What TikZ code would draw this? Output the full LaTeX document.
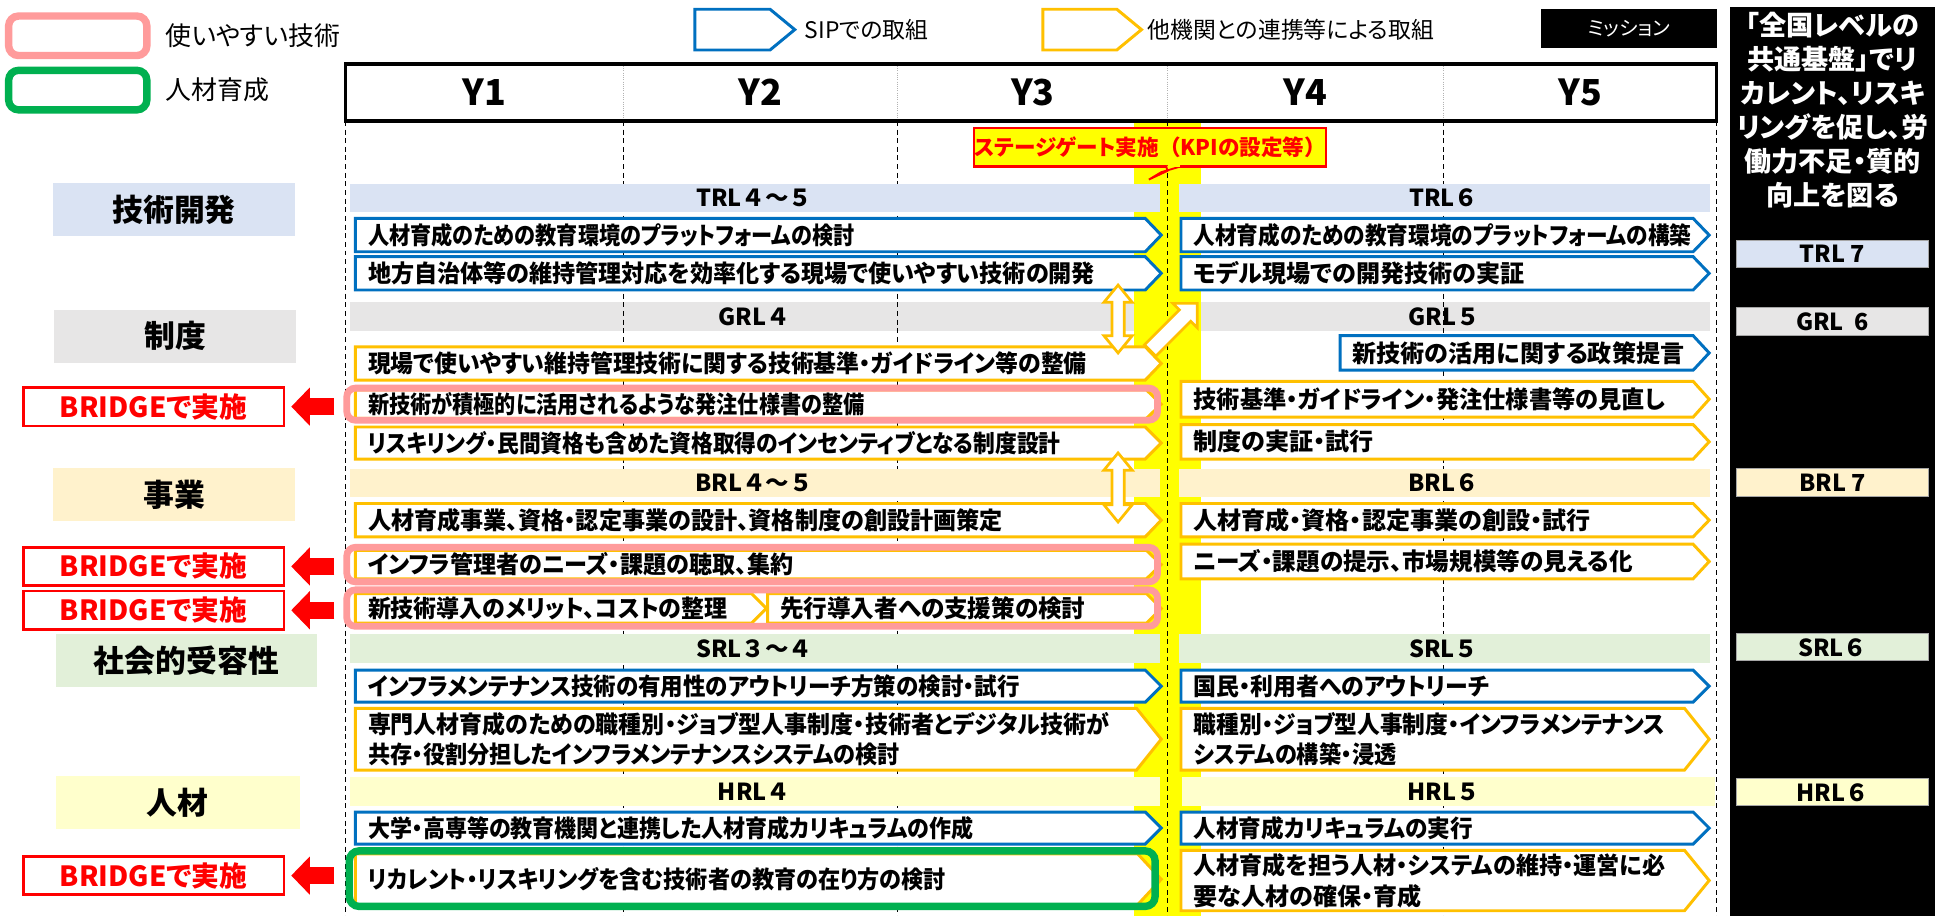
\documentclass[tikz,border=0pt]{standalone}
\usepackage{graphicx}
\usepackage{fontspec}
\setmainfont{Noto Sans CJK JP}[RawFeature=+palt]
\newfontfamily\jpfull{Noto Sans CJK JP}
\usetikzlibrary{arrows.meta,calc}
\definecolor{sipblue}{HTML}{0070C0}
\definecolor{orgC}{HTML}{FFC000}
\definecolor{pinkC}{HTML}{FF9B9B}
\definecolor{greenC}{HTML}{00B050}
\definecolor{trlC}{HTML}{DAE3F3}
\definecolor{grlC}{HTML}{E7E6E6}
\definecolor{brlC}{HTML}{FFF2CC}
\definecolor{srlC}{HTML}{E2F0D9}
\definecolor{hrlC}{HTML}{FFFFCC}
\definecolor{gateY}{HTML}{FFFF00}
\newcommand\fsz[2]{\fontsize{#1}{#2}\selectfont}
\newcommand\sx[2]{\scalebox{#1}[1]{#2}}
% pentagon task arrow: style, x1, y1, xtip, y2, depth, name
\newcommand\pent[7]{%
  \path[#1] (#2,#3) -- ({#4-#6},#3) -- (#4,{(#3+#5)/2}) -- ({#4-#6},#5) -- (#2,#5) -- cycle;
  \coordinate (#7) at ({#2+10},{(#3+#5)/2});}
% vertical double block arrow: cx, y1, y2
\newcommand\dblarr[3]{%
  \path[dblA] (#1,#2) -- ({#1+11.5},{#2+14}) -- ({#1+5},{#2+14}) -- ({#1+5},{#3-14}) -- ({#1+11.5},{#3-14})
   -- (#1,#3) -- ({#1-11.5},{#3-14}) -- ({#1-5},{#3-14}) -- ({#1-5},{#2+14}) -- ({#1-11.5},{#2+14}) -- cycle;}
\begin{document}
\begin{tikzpicture}[x=1pt,y=-1pt,
  blueT/.style={draw=sipblue,line width=2.4,fill=white},
  orangeT/.style={draw=orgC,line width=2.4,fill=white},
  tt/.style={anchor=west,inner sep=0pt,font=\fsz{19.5}{25}\bfseries,align=left},
  lvl/.style={inner sep=0pt,font=\jpfull\fsz{19}{22}\bfseries},
  catbox/.style={minimum height=43,inner sep=0pt,font=\fsz{25}{28}\bfseries},
  bridge/.style={draw=red,line width=2,fill=white,text=red,minimum width=211,minimum height=31,inner sep=0pt,font=\fsz{22.5}{24}\bfseries},
  redarr/.style={draw=red,line width=14,-{Triangle[width=30pt,length=15pt]}},
  frameP/.style={draw=pinkC,line width=5.5,rounded corners=7},
  frameG/.style={draw=greenC,line width=6,rounded corners=8},
  dsh/.style={line width=0.8,dash pattern=on 4pt off 3pt},
  rbox/.style={draw=gray!70,line width=0.8,minimum width=155,minimum height=22,inner sep=0pt,font=\jpfull\fsz{19}{22}\bfseries},
  dblA/.style={draw=orgC,line width=2.2,fill=white,line join=miter},
  legtxt/.style={anchor=west,inner sep=0pt}
]
\useasboundingbox (0,0) rectangle (1568,742);
\fill[white] (0,0) rectangle (1568,742);

% ---- GRL bars (back layer)
\fill[grlC] (284,245) rectangle (940,268);
\node[lvl] (grl4) at (611,256.5) {GRL４};
\fill[grlC] (955,245) rectangle (1386,268);
\node[lvl] (grl5) at (1170,256.5) {GRL５};

% ---- yellow stage gate band
\fill[gateY] (919,98) rectangle (973,742);

% ---- dashed year lines
\foreach \xx in {280,505,727,946,1170,1391}{\draw[dsh] (\xx,98) -- (\xx,742);}

% ---- level bars
\fill[trlC] (284,149) rectangle (940,172);
\node[lvl] (trl45) at (611,160.5) {TRL４～５};
\fill[trlC] (955,149) rectangle (1386,172);
\node[lvl] (trl6) at (1170,160.5) {TRL６};
\fill[brlC] (284,380) rectangle (940,403);
\node[lvl] (brl45) at (611,391.5) {BRL４～５};
\fill[brlC] (955,380) rectangle (1386,403);
\node[lvl] (brl6) at (1170,391.5) {BRL６};
\fill[srlC] (284,514) rectangle (940,537);
\node[lvl] (srl34) at (611,525.5) {SRL３～４};
\fill[srlC] (955,514) rectangle (1386,537);
\node[lvl] (srl5) at (1170,525.5) {SRL５};
\fill[hrlC] (284,630) rectangle (940,653);
\node[lvl] (hrl4) at (611,641.5) {HRL４};
\fill[hrlC] (958,630) rectangle (1390,653);
\node[lvl] (hrl5) at (1170,641.5) {HRL５};

% ---- header
\draw[line width=3] (280,52) rectangle (1391,98);
\foreach \xx in {505,727,946,1170}{\draw[gray!60,densely dotted,line width=0.8] (\xx,53.5) -- (\xx,96.5);}
\foreach \yy/\xx in {1/392.5,2/616,3/837,4/1058,5/1280.5}{\node[font=\fsz{29}{32}\bfseries,inner sep=0pt] (Y\yy) at (\xx,75) {Y\yy};}

% ---- left tasks
\pent{blueT}{288}{177}{941}{204}{13}{L1}
\node[tt] (L1t) at (L1) {\sx{0.88}{人材育成のための教育環境のプラットフォームの検討}};
\pent{blueT}{288}{208}{941}{235}{13}{L2}
\node[tt] (L2t) at (L2) {\sx{0.96}{地方自治体等の維持管理対応を効率化する現場で使いやすい技術の開発}};
\pent{orangeT}{288}{281}{941}{308}{13}{L3}
\node[tt] (L3t) at (L3) {\sx{0.95}{現場で使いやすい維持管理技術に関する技術基準・ガイドライン等の整備}};
\pent{orangeT}{288}{316}{941}{339}{12}{L4}
\node[tt] (L4t) at (L4) {\sx{0.88}{新技術が積極的に活用されるような発注仕様書の整備}};
\pent{orangeT}{288}{346}{941}{372}{13}{L5}
\node[tt] (L5t) at (L5) {\sx{0.905}{リスキリング・民間資格も含めた資格取得のインセンティブとなる制度設計}};
\pent{orangeT}{288}{408}{941}{435}{13}{L6}
\node[tt] (L6t) at (L6) {\sx{0.96}{人材育成事業、資格・認定事業の設計、資格制度の創設計画策定}};
\pent{orangeT}{288}{446}{941}{469}{12}{L7}
\node[tt] (L7t) at (L7) {\sx{0.96}{インフラ管理者のニーズ・課題の聴取、集約}};
\pent{orangeT}{288}{481}{621}{505}{12}{L8a}
\node[tt] (L8at) at (L8a) {\sx{0.955}{新技術導入のメリット、コストの整理}};
\pent{orangeT}{622}{481}{941}{505}{12}{L8b}
\node[tt] (L8bt) at (L8b) {\sx{0.98}{先行導入者への支援策の検討}};
\pent{blueT}{288}{543}{941}{569}{13}{L9}
\node[tt] (L9t) at (L9) {\sx{0.935}{インフラメンテナンス技術の有用性のアウトリーチ方策の検討・試行}};
\pent{orangeT}{288}{574}{941}{624}{20}{L10}
\node[tt] (L10a) at ($(L10)+(0,-12.5)$) {\sx{0.955}{専門人材育成のための職種別・ジョブ型人事制度・技術者とデジタル技術が}};
\node[tt] (L10b) at ($(L10)+(0,12.5)$) {\sx{0.92}{共存・役割分担したインフラメンテナンスシステムの検討}};
\pent{blueT}{288}{658}{941}{684}{13}{L11}
\node[tt] (L11t) at (L11) {\sx{0.915}{大学・高専等の教育機関と連携した人材育成カリキュラムの作成}};
\pent{orangeT}{288}{692}{941}{733}{19}{L12}
\node[tt] (L12t) at (L12) {\sx{0.92}{リカレント・リスキリングを含む技術者の教育の在り方の検討}};

% ---- right tasks
\pent{blueT}{957}{177}{1385}{204}{13}{R1}
\node[tt] (R1t) at (R1) {\sx{0.9}{人材育成のための教育環境のプラットフォームの構築}};
\pent{blueT}{957}{208}{1385}{235}{13}{R2}
\node[tt] (R2t) at (R2) {モデル現場での開発技術の実証};
\pent{blueT}{1086}{272}{1385}{300}{13}{R3}
\node[tt] (R3t) at (R3) {新技術の活用に関する政策提言};
\pent{orangeT}{957}{309}{1385}{338}{13}{R4}
\node[tt] (R4t) at (R4) {\sx{0.965}{技術基準・ガイドライン・発注仕様書等の見直し}};
\pent{orangeT}{957}{344}{1385}{372}{13}{R5}
\node[tt] (R5t) at (R5) {制度の実証・試行};
\pent{orangeT}{957}{408}{1385}{435}{13}{R6}
\node[tt] (R6t) at (R6) {人材育成・資格・認定事業の創設・試行};
\pent{orangeT}{957}{441}{1385}{469}{13}{R7}
\node[tt] (R7t) at (R7) {\sx{0.98}{ニーズ・課題の提示、市場規模等の見える化}};
\pent{blueT}{957}{543}{1385}{569}{13}{R8}
\node[tt] (R8t) at (R8) {\sx{0.95}{国民・利用者へのアウトリーチ}};
\pent{orangeT}{957}{574}{1385}{624}{20}{R9}
\node[tt] (R9a) at ($(R9)+(0,-12.5)$) {\sx{0.945}{職種別・ジョブ型人事制度・インフラメンテナンス}};
\node[tt] (R9b) at ($(R9)+(0,12.5)$) {\sx{0.92}{システムの構築・浸透}};
\pent{blueT}{957}{658}{1385}{684}{13}{R10}
\node[tt] (R10t) at (R10) {\sx{0.94}{人材育成カリキュラムの実行}};
\pent{orangeT}{957}{689}{1385}{738}{20}{R11}
\node[tt] (R11a) at ($(R11)+(0,-12.5)$) {\sx{0.96}{人材育成を担う人材・システムの維持・運営に必}};
\node[tt] (R11b) at ($(R11)+(0,12.5)$) {要な人材の確保・育成};

% ---- frames
\draw[frameP] (281,314.5) rectangle (938,340.5);
\draw[frameP] (281,443.5) rectangle (938,471.5);
\draw[frameP] (281,478) rectangle (938,507.5);
\draw[frameG] (283,689.5) rectangle (936,734.5);

% ---- double arrows and diagonal arrow
\dblarr{906}{231}{286}
\dblarr{906}{367}{423}
\begin{scope}[shift={(932,284)},rotate=45]
\path[dblA] (0,-6.5) -- (40,-6.5) -- (40,-14) -- (54,0) -- (40,14) -- (40,6.5) -- (0,6.5) -- cycle;
\end{scope}

% ---- category labels
\node[catbox,fill=trlC,minimum width=196] (c1) at (141,170) {技術開発};
\node[catbox,fill=grlC,minimum width=196] (c2) at (142,272.5) {制度};
\node[catbox,fill=brlC,minimum width=196] (c3) at (141,401) {事業};
\node[catbox,fill=srlC,minimum width=212] (c4) at (151,535) {社会的受容性};
\node[catbox,fill=hrlC,minimum width=198] (c5) at (144,650.5) {人材};

% ---- BRIDGE boxes and red arrows
\node[bridge] (b1) at (124.5,329.5) {BRIDGEで実施};
\node[bridge] (b2) at (124.5,459) {BRIDGEで実施};
\node[bridge] (b3) at (124.5,494.5) {BRIDGEで実施};
\node[bridge] (b4) at (124.5,709.5) {BRIDGEで実施};
\coordinate (ra1) at (271,329.5);
\coordinate (ra2) at (271,459);
\coordinate (ra3) at (271,494.5);
\coordinate (ra4) at (271,709.5);
\draw[redarr] (ra1) -- ($(b1.east)+(5,0)$);
\draw[redarr] (ra2) -- ($(b2.east)+(5,0)$);
\draw[redarr] (ra3) -- ($(b3.east)+(5,0)$);
\draw[redarr] (ra4) -- ($(b4.east)+(5,0)$);

% ---- stage gate callout
\node[draw=red,line width=1.8,fill=gateY,text=red,font=\fsz{17.5}{20}\bfseries,minimum width=278,minimum height=31,inner sep=0pt] (gate) at (932,119.5) {ステージゲート実施{\jpfull （}KPIの設定等{\jpfull ）}};
\path[fill=gateY,draw=red,line width=1.5,line join=miter] (958,134.5) -- (941,139.5) -- (931,145.5) -- (946,138.5) -- (945,134.5);
\fill[gateY] (946.5,133) rectangle (956.5,135.2);

% ---- mission column
\fill[black] (1402,6) rectangle (1568,742);
\node[text=white,font=\fsz{22}{27.5}\bfseries,align=center,inner sep=0pt] (msn) at (1485,89) {「全国レベルの\\共通基盤」でリ\\カレント、リスキ\\リングを促し、労\\働力不足・質的\\向上を図る};
\node[rbox,fill=trlC] (t7) at (1485,206) {TRL 7};
\node[rbox,fill=grlC] (g6) at (1485,260.5) {GRL\ \ 6};
\node[rbox,fill=brlC] (br7) at (1485,391) {BRL 7};
\node[rbox,fill=srlC] (s6) at (1485,524.5) {SRL６};
\node[rbox,fill=hrlC] (h6) at (1485,642) {HRL６};

% ---- legend
\draw[pinkC,line width=6,rounded corners=8] (7,13) rectangle (119,45);
\node[legtxt,font=\fsz{21}{24}] (lg1) at (134,29) {使いやすい技術};
\draw[greenC,line width=6,rounded corners=8] (7,57) rectangle (119,89);
\node[legtxt,font=\fsz{21}{24}] (lg2) at (134,73) {人材育成};
\pent{blueT}{563}{7.5}{644}{40.5}{20}{lgb}
\node[legtxt,font=\fsz{18.5}{22}] (lg3) at (652,24) {SIPでの取組};
\pent{orangeT}{845}{7.5}{925}{40.5}{20}{lgo}
\node[legtxt,font=\fsz{18.5}{22}] (lg4) at (930,24) {他機関との連携等による取組};
\node[fill=black,text=white,minimum width=142,minimum height=32,inner sep=0pt,font=\fsz{16}{18}] (mis) at (1320,23) {ミッション};
\end{tikzpicture}
\end{document}
